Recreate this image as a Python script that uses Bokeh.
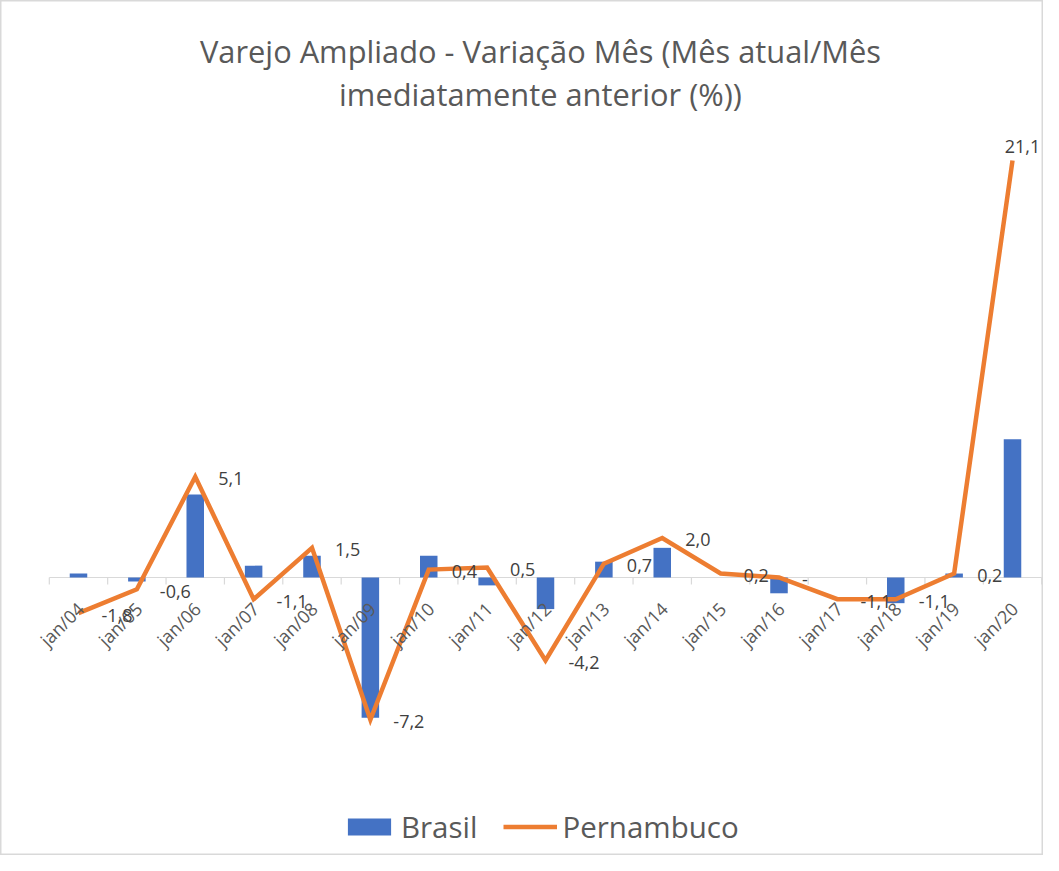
import math
from bokeh.plotting import figure
from bokeh.models import Range1d, Label, Legend, LegendItem, ColumnDataSource
from bokeh.core.properties import value
from bokeh.embed import file_html
from bokeh.resources import INLINE

# ---- data ----
categories = ["jan/04", "jan/05", "jan/06", "jan/07", "jan/08", "jan/09", "jan/10",
              "jan/11", "jan/12", "jan/13", "jan/14", "jan/15", "jan/16", "jan/17",
              "jan/18", "jan/19", "jan/20"]
brasil = [0.2, -0.2, 4.2, 0.6, 1.1, -7.1, 1.1, -0.4, -1.6, 0.8, 1.5, 0.0, -0.8, 0.0, -1.3, 0.2, 7.0]
pernambuco = [-1.8, -0.6, 5.1, -1.1, 1.5, -7.2, 0.4, 0.5, -4.2, 0.7, 2.0, 0.2, 0.0, -1.1, -1.1, 0.2, 21.1]
title_lines = ["Varejo Ampliado - Variação Mês (Mês atual/Mês", "imediatamente anterior (%))"]

FONT = "Open Sans"
idx = list(range(len(categories)))
labels = ["-" if v == 0 else f"{v:.1f}".replace(".", ",") for v in pernambuco]
bounds = [i - 0.5 for i in idx] + [idx[-1] + 0.5]

p = figure(width=1043, height=855, output_backend="svg", toolbar_location=None,
           x_range=Range1d(-1.336, 16.531), y_range=Range1d(-14.07, 29.20),
           x_axis_type=None, y_axis_type=None, min_border=0)
p.grid.visible = False
p.outline_line_color = "#D9D9D9"
p.outline_line_width = 2
p.background_fill_color = "white"
p.border_fill_color = "white"

# axis line at zero and tick marks
p.segment(x0=[bounds[0]], y0=[0], x1=[bounds[-1]], y1=[0], line_color="#D9D9D9", line_width=1.2)
p.ray(x=bounds, y=[0] * len(bounds), length=7, length_units="screen", angle=-math.pi / 2,
      line_color="#D9D9D9", line_width=1.2)

bars = p.vbar(x=idx, top=brasil, bottom=0, width=0.3, fill_color="#4472C4", line_color=None)
line = p.line(x=idx, y=pernambuco, line_color="#ED7D31", line_width=4.5, line_join="miter")

# category labels
p.text(x=idx, y=[0] * len(idx), text=categories, angle=math.pi / 4, text_align="right",
       text_baseline="middle", x_offset=2, y_offset=28, text_font=value(FONT),
       text_font_size="18px", text_color="#595959")

# data labels (right of each point; the last one sits above so it stays inside the chart)
src = ColumnDataSource(dict(x=idx[:-1], y=pernambuco[:-1], t=labels[:-1]))
p.text(x="x", y="y", text="t", source=src, text_align="left", text_baseline="middle",
       x_offset=23, y_offset=2, text_font=value(FONT), text_font_size="18px", text_color="#404040")
p.text(x=idx[-1:], y=pernambuco[-1:], text=labels[-1:], text_align="center", text_baseline="middle",
       x_offset=10, y_offset=-14, text_font=value(FONT), text_font_size="18px", text_color="#404040")

# title
p.add_layout(Label(x=540, y=805, x_units="screen", y_units="screen", text=title_lines[0],
                   text_align="center", text_baseline="middle", text_font=FONT,
                   text_font_size="30.8px", text_color="#595959"))
p.add_layout(Label(x=540, y=762, x_units="screen", y_units="screen", text=title_lines[1],
                   text_align="center", text_baseline="middle", text_font=FONT,
                   text_font_size="30.8px", text_color="#595959"))

legend = Legend(items=[LegendItem(label="Brasil", renderers=[bars]),
                       LegendItem(label="Pernambuco", renderers=[line])],
                orientation="horizontal", location=(342, 8),
                glyph_width=54, glyph_height=21, label_standoff=5, spacing=26,
                padding=0, margin=0, border_line_color=None, background_fill_alpha=0,
                label_text_font=FONT, label_text_font_size="29.5px", label_text_color="#595959")
p.add_layout(legend)

open("out.html", "w").write(file_html(p, INLINE))
